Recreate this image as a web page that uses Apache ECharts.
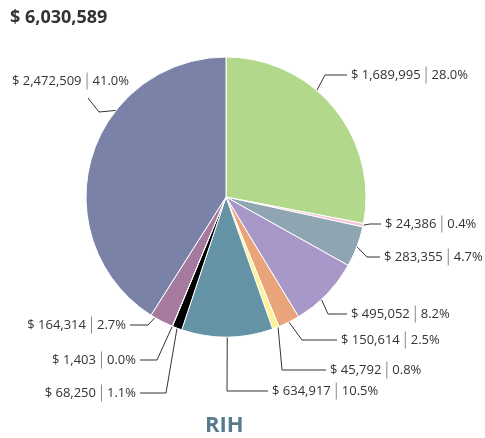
<!DOCTYPE html>
<html>
<head>
<meta charset="utf-8">
<script src="https://cdn.jsdelivr.net/npm/echarts@6/dist/echarts.min.js"></script>
<style>
  html, body { margin: 0; padding: 0; background: #fff; }
  #chart { width: 485px; height: 438px; }
</style>
</head>
<body>
<div id="chart"></div>
<script>
  var total = '$ 6,030,589';
  var groupName = 'RIH';
  var values = [1689995, 24386, 283355, 495052, 150614, 45792, 634917, 68250, 1403, 164314, 2472509];
  var percents = ['28.0%', '0.4%', '4.7%', '8.2%', '2.5%', '0.8%', '10.5%', '1.1%', '0.0%', '2.7%', '41.0%'];
  var colors = ['#b2d88b', '#f5c6d4', '#8fa5b1', '#a897c9', '#e9a47a', '#fbf29b', '#6593a6', '#000000', '#c9c9c9', '#a67a9f', '#7b82a8'];

  // label placement: [labelX, labelY, elbowX, elbowY, anchor shift in deg]
  var guides = [
    [351, 75, 325, 75, -10],
    [385, 224, 370, 224, 0],
    [384, 257, 367, 257, 0],
    [351, 314, 328, 314, 3],
    [341, 340, 302, 340, 0],
    [330, 370, 282, 370, -1],
    [272, 391, 227, 391, 0],
    [136, 393, 166, 393, 0],
    [136, 360, 157, 360, 0],
    [126, 325, 148, 325, 3],
    [129, 81, 99, 112, 22]
  ];
  var cx = 226, cy = 197, r = 140;

  function money(v) {
    return '$ ' + v.toLocaleString('en-US');
  }

  var data = [];
  for (var i = 0; i < values.length; i++) {
    data.push({
      value: values[i],
      pct: percents[i],
      itemStyle: { color: colors[i] }
    });
  }

  var chart = echarts.init(document.getElementById('chart'));
  chart.setOption({
    animation: false,
    title: [{
      text: total,
      left: 5, top: 4,
      textStyle: { fontFamily: 'Open Sans', fontSize: 18, fontWeight: 'bold', color: '#333' }
    }, {
      text: groupName,
      left: 200, top: 410,
      textStyle: { fontFamily: 'Open Sans', fontSize: 22, fontWeight: 'bold', color: '#587a8b' }
    }],
    series: [{
      type: 'pie',
      center: [cx, cy],
      radius: [0, r],
      startAngle: 90,
      clockwise: true,
      data: data,
      itemStyle: { borderColor: '#fff', borderWidth: 1 },
      label: {
        fontFamily: 'Open Sans',
        fontSize: 13,
        color: '#333',
        overflow: 'none',
        formatter: function (p) {
          return money(p.value) + '{gap|}{sep|}{gap|}' + p.data.pct;
        },
        rich: {
          gap: { width: 5 },
          sep: { width: 1, height: 17, backgroundColor: '#888' }
        }
      },
      labelLine: {
        show: true,
        length: 14,
        length2: 24,
        lineStyle: { color: '#333', width: 1 }
      },
      labelLayout: function (p) {
        var g = guides[p.dataIndex];
        var a = p.labelLinePoints[0];
        var ang = Math.atan2(a[1] - cy, a[0] - cx) + g[4] * Math.PI / 180;
        var anchor = [cx + r * Math.cos(ang), cy + r * Math.sin(ang)];
        var right = g[0] > cx;
        var end;
        if (p.dataIndex === 10) {
          end = [88, 98];
        } else {
          end = [right ? g[0] - 4 : g[0] + 4, g[1]];
        }
        return {
          x: g[0],
          y: g[1],
          align: right ? 'left' : 'right',
          verticalAlign: 'middle',
          labelLinePoints: [anchor, [g[2], g[3]], end]
        };
      }
    }]
  });
</script>
</body>
</html>
